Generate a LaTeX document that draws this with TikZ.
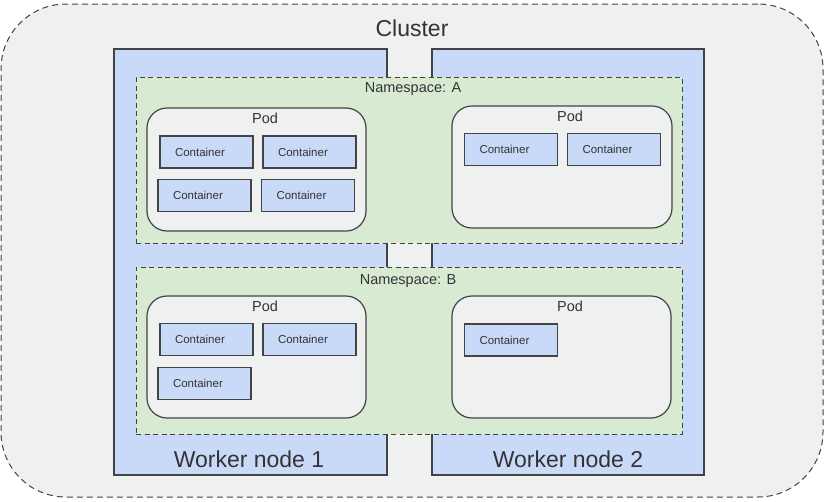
\documentclass[tikz,border=0pt]{standalone}
\usepackage{fontspec}
\setmainfont{Liberation Sans}
\definecolor{clusterfill}{HTML}{EFF1F0}
\definecolor{workerfill}{HTML}{C9DAF8}
\definecolor{nsfill}{HTML}{D9EAD3}
\definecolor{podfill}{HTML}{EFF1F0}
\definecolor{edge}{HTML}{434343}
\definecolor{ink}{HTML}{333333}
\begin{document}
\begin{tikzpicture}[x=1pt, y=-1pt]
    \tikzset{cluster/.style={draw=edge, fill=clusterfill, line width=1pt, dash pattern=on 6pt off 4pt, rounded corners=65pt, minimum width=822pt, minimum height=493pt, inner sep=0pt}}
    \tikzset{worker/.style={draw=edge, fill=workerfill, line width=1.3pt, minimum height=426pt, inner sep=0pt}}
    \tikzset{namespace/.style={draw=edge, fill=nsfill, line width=1pt, dash pattern=on 5pt off 3.5pt, minimum width=546pt, inner sep=0pt}}
    \tikzset{pod/.style={draw=edge, fill=podfill, line width=1.2pt, rounded corners=20pt, minimum height=122pt, inner sep=0pt}}
    \tikzset{container/.style={draw=edge, fill=workerfill, line width=1.2pt, minimum height=32pt, text width=63pt, align=left, inner xsep=15pt, inner ysep=0pt, text=ink, font=\fontsize{11.5}{13}\selectfont}}
    \tikzset{biglabel/.style={text=ink, inner sep=0pt, font=\fontsize{23}{27}\selectfont}}
    \tikzset{smalllabel/.style={text=ink, inner sep=0pt, font=\fontsize{14.5}{17}\selectfont}}

    \useasboundingbox (0,0) rectangle (825,501);
    \node[cluster] (Cluster) at (412,250.5) {};
    \node[biglabel] (ClusterLabel) at (412,28) {Cluster};

    \node[worker, minimum width=273pt] (Worker1) at (250.5,262) {};
    \node[worker, minimum width=272pt] (Worker2) at (568,262) {};
    \node[biglabel] (Worker1Label) at (249,459) {Worker node 1};
    \node[biglabel] (Worker2Label) at (568,459) {Worker node 2};

    \node[namespace, minimum height=166pt] (NamespaceA) at (409,160) {};
        \node[smalllabel] (NamespaceALabel) at (413,89) {Namespace: A};
        \node[pod, minimum width=219pt, minimum height=123pt] (PodA1) at (256.5,169.5) {};
        \node[smalllabel] (PodA1Label) at (265,118) {Pod};
        \node[container] (ContainerA1) at (206.5,152) {Container};
        \node[container] (ContainerA2) at (309.5,152) {Container};
        \node[container] (ContainerA3) at (204.5,195.5) {Container};
        \node[container] (ContainerA4) at (308,195.5) {Container};
        \node[pod, minimum width=220pt] (PodA2) at (562,167) {};
        \node[smalllabel] (PodA2Label) at (570,116) {Pod};
        \node[container] (ContainerA5) at (511,149.5) {Container};
        \node[container] (ContainerA6) at (614,149.5) {Container};

    \node[namespace, minimum height=167pt] (NamespaceB) at (409,350.5) {};
        \node[smalllabel] (NamespaceBLabel) at (408,281) {Namespace: B};
        \node[pod, minimum width=219pt] (PodB1) at (256.5,357) {};
        \node[smalllabel] (PodB1Label) at (265,306) {Pod};
        \node[container] (ContainerB1) at (206.5,339.5) {Container};
        \node[container] (ContainerB2) at (309.5,339.5) {Container};
        \node[container] (ContainerB3) at (204.5,383.5) {Container};
        \node[pod, minimum width=219pt] (PodB2) at (561.5,357) {};
        \node[smalllabel] (PodB2Label) at (570,306) {Pod};
        \node[container] (ContainerB4) at (511,340) {Container};
\end{tikzpicture}
\end{document}
